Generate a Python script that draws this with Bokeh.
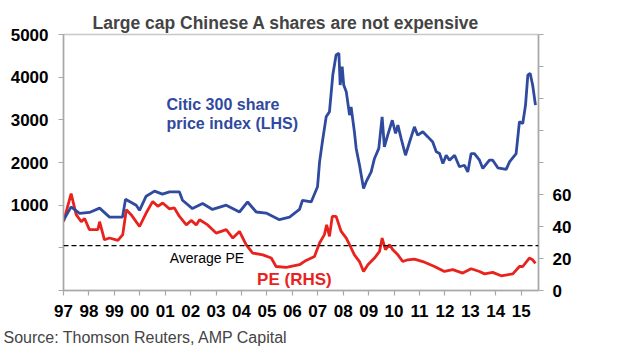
from bokeh.plotting import figure
from bokeh.models import Range1d, LinearAxis, FixedTicker, Span, Label, Title
from bokeh.embed import file_html
from bokeh.resources import INLINE

# ---- data ----
citic_year = [1997.00, 1997.30, 1997.63, 1998.02, 1998.42, 1998.81, 1999.32, 1999.44, 1999.86, 1999.99,
              2000.25, 2000.58, 2000.89, 2001.17, 2001.56, 2001.68, 2002.07, 2002.47, 2002.86, 2003.40,
              2003.92, 2004.24, 2004.58, 2004.97, 2005.49, 2005.89, 2006.28, 2006.40, 2006.74, 2006.99,
              2007.07, 2007.18, 2007.33, 2007.46, 2007.59, 2007.72, 2007.83, 2007.88, 2007.96, 2008.02,
              2008.12, 2008.25, 2008.31, 2008.44, 2008.51, 2008.64, 2008.80, 2008.90, 2009.10, 2009.23,
              2009.40, 2009.53, 2009.62, 2009.75, 2009.93, 2010.06, 2010.15, 2010.28, 2010.45, 2010.61,
              2010.80, 2010.93, 2011.13, 2011.33, 2011.52, 2011.66, 2011.79, 2011.92, 2012.05, 2012.18,
              2012.38, 2012.57, 2012.77, 2012.90, 2013.03, 2013.16, 2013.36, 2013.49, 2013.75, 2013.88,
              2014.08, 2014.41, 2014.54, 2014.80, 2014.93, 2015.06, 2015.17, 2015.26, 2015.35, 2015.45,
              2015.56]
citic_value = [645, 960, 810, 830, 930, 720, 720, 1140, 1000, 880,
               1210, 1330, 1260, 1310, 1310, 1115, 920, 1040, 900, 1000,
               840, 1075, 840, 815, 660, 720, 900, 1115, 1075, 1430,
               2015, 2480, 3070, 3190, 4050, 4520, 4560, 3815, 4245, 3815,
               3660, 3110, 3305, 2720, 2330, 1940, 1390, 1545, 1780, 2095,
               2330, 3070, 2365, 2640, 2990, 2680, 2875, 2560, 2170, 2480,
               2835, 2640, 2720, 2600, 2480, 2250, 2210, 1975, 2170, 2055,
               2170, 1900, 1935, 1780, 2210, 2210, 2055, 1860, 2055, 2055,
               1875, 1840, 2015, 2210, 2955, 2915, 3345, 4050, 4090, 3815,
               3345]

pe_year = [1997.00, 1997.30, 1997.50, 1997.70, 1997.83, 1998.02, 1998.35, 1998.42, 1998.61, 1998.81,
           1999.14, 1999.33, 1999.47, 1999.66, 1999.99, 2000.25, 2000.51, 2000.71, 2000.90, 2001.17,
           2001.36, 2001.56, 2001.83, 2002.02, 2002.22, 2002.35, 2002.67, 2003.00, 2003.40, 2003.66,
           2003.92, 2004.18, 2004.44, 2004.84, 2005.17, 2005.36, 2005.76, 2006.28, 2006.54, 2006.87,
           2007.07, 2007.26, 2007.35, 2007.46, 2007.57, 2007.72, 2007.92, 2008.12, 2008.25, 2008.44,
           2008.64, 2008.80, 2008.97, 2009.23, 2009.43, 2009.53, 2009.66, 2009.82, 2009.95, 2010.15,
           2010.34, 2010.54, 2010.80, 2011.13, 2011.59, 2011.98, 2012.31, 2012.70, 2013.03, 2013.36,
           2013.56, 2013.88, 2014.21, 2014.67, 2014.93, 2015.06, 2015.32, 2015.45, 2015.56]
pe_value = [43, 60.5, 47.4, 43, 45, 38, 38, 43, 31.7, 32.8,
            31.3, 34.9, 50.5, 47.4, 40, 48.4, 55.7, 52.6, 54.7, 51,
            51.6, 46.3, 41, 43.8, 41, 44.2, 41, 35.9, 38, 32.8,
            36.9, 28.6, 23.4, 22.3, 20.3, 15, 14.4, 16.1, 18.8, 21.3,
            29.7, 34.9, 41.1, 33.8, 46.3, 46.3, 36.9, 32.8, 28.6, 22.3,
            18.1, 11.9, 16.1, 20.3, 24.4, 32.8, 25.5, 28.6, 25.5, 22.3,
            18.1, 19.2, 19.6, 18.1, 15, 11.9, 13, 10.9, 13.6, 11.9,
            10.4, 11.3, 9.2, 10.4, 15, 15, 20.3, 19.2, 17]

average_pe = 28
year_ticks = list(range(1997, 2016))
year_labels = ["97", "98", "99", "00", "01", "02", "03", "04", "05", "06",
               "07", "08", "09", "10", "11", "12", "13", "14", "15"]
left_ticks = [-1000, 0, 1000, 2000, 3000, 4000, 5000]
left_labels = ["", "", "1000", "2000", "3000", "4000", "5000"]
right_ticks = [0, 20, 40, 60, 80, 100, 120, 140, 160]
right_labels = ["0", "20", "40", "60", "", "", "", "", ""]

BLUE = "#2f4a9e"
RED = "#e8231e"
AXIS = "#a8a8a8"
FONT = "Liberation Sans"

p = figure(frame_width=475, frame_height=256, output_backend="svg", toolbar_location=None,
           x_range=Range1d(1997, 2015.68), y_range=Range1d(-1000, 5000),
           min_border_left=63, min_border_right=90, min_border_top=34, min_border_bottom=62)
p.extra_y_ranges = {"pe": Range1d(0, 160)}
p.background_fill_color = "white"
p.border_fill_color = "white"
p.outline_line_color = "#c8c8c8"
p.outline_line_width = 1.5
p.xgrid.visible = False
p.ygrid.visible = False

p.title.text = "Large cap Chinese A shares are not expensive"
p.title.text_font = FONT
p.title.text_font_size = "17.5px"
p.title.text_font_style = "bold"
p.title.align = "left"
p.title.offset = 29
p.title.standoff = 4

# x axis
xa = p.xaxis[0]
xa.ticker = FixedTicker(ticks=year_ticks)
xa.major_label_overrides = {t: l for t, l in zip(year_ticks, year_labels)}
# left axis
ya = p.yaxis[0]
ya.ticker = FixedTicker(ticks=left_ticks)
ya.major_label_overrides = {t: l for t, l in zip(left_ticks, left_labels)}
# right axis
ra = LinearAxis(y_range_name="pe", ticker=FixedTicker(ticks=right_ticks))
ra.major_label_overrides = {t: l for t, l in zip(right_ticks, right_labels)}
p.add_layout(ra, "right")

for ax in (xa, ya, ra):
    ax.axis_line_color = AXIS
    ax.axis_line_width = 1.5
    ax.major_tick_line_color = AXIS
    ax.major_tick_line_width = 1.2
    ax.major_tick_in = 0
    ax.major_tick_out = 5
    ax.minor_tick_line_color = None
    ax.major_label_text_font = FONT
    ax.major_label_text_font_style = "bold"
    ax.major_label_text_color = "black"
xa.major_label_text_font_size = "17px"
xa.major_label_standoff = 9
ya.major_label_text_font_size = "17px"
ya.major_label_standoff = 10
ra.major_label_text_font_size = "17px"
ra.major_label_standoff = 9

p.line(pe_year, pe_value, y_range_name="pe", line_color=RED, line_width=2.8)
p.line(citic_year, citic_value, line_color=BLUE, line_width=2.8)

p.add_layout(Span(location=average_pe, dimension="width", y_range_name="pe",
                  line_color="black", line_dash="5 3", line_width=1.3))

p.add_layout(Label(x=2001.05, y=3370, text="Citic 300 share", text_font=FONT, text_font_size="16px",
                   text_font_style="bold", text_color=BLUE, text_baseline="middle"))
p.add_layout(Label(x=2001.05, y=2920, text="price index (LHS)", text_font=FONT, text_font_size="16px",
                   text_font_style="bold", text_color=BLUE, text_baseline="middle"))
p.add_layout(Label(x=2002.64, y=20.5, y_range_name="pe", text="Average PE", text_font=FONT,
                   text_font_size="14px", text_color="black", text_align="center", text_baseline="middle"))
p.add_layout(Label(x=2006.08, y=6.7, y_range_name="pe", text="PE (RHS)", text_font=FONT,
                   text_font_size="17px", text_font_style="bold", text_color=RED,
                   text_align="center", text_baseline="middle"))

src = Title(text="Source: Thomson Reuters, AMP Capital", text_font=FONT, text_font_size="16px",
            text_font_style="normal", align="left", offset=-60, standoff=14)
p.add_layout(src, "below")

open("out.html", "w").write(file_html(p, INLINE))
